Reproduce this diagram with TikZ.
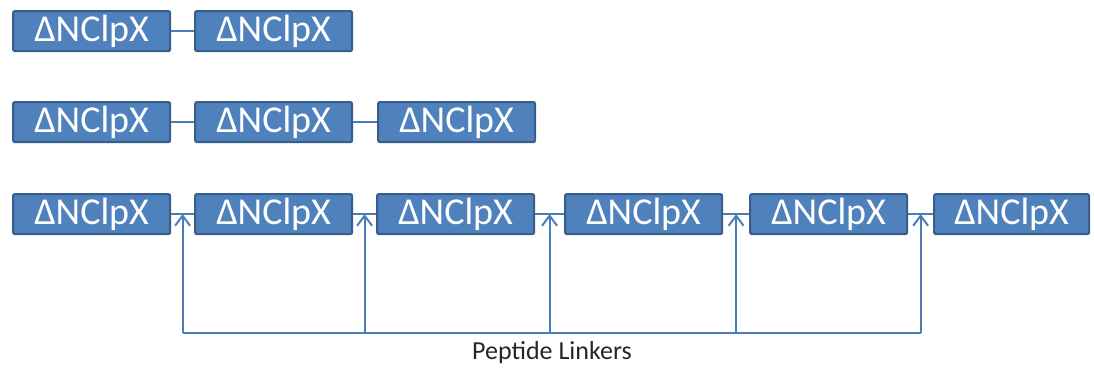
\documentclass[tikz,border=0pt]{standalone}
\usepackage{fontspec}
\setmainfont{Carlito}
\usetikzlibrary{arrows.meta}
\definecolor{boxfill}{HTML}{4F81BD}
\definecolor{boxline}{HTML}{385D8A}
\definecolor{linkcol}{HTML}{4A7EBB}
\begin{document}
\begin{tikzpicture}[x=1pt,y=-1pt,
  clp/.style={draw=boxline, line width=2.2pt, fill=boxfill, rounded corners=2pt,
    minimum width=157pt, minimum height=40pt, inner sep=0pt, anchor=north west,
    text=white, font=\fontsize{38}{42}\selectfont},
  link/.style={draw=linkcol, line width=2.6pt},
  linker/.style={draw=linkcol, line width=2pt},
  tip/.style={-{Straight Barb[length=10pt,width=15pt,line width=2pt]}}
]
\useasboundingbox (0,0) rectangle (1094,370);
% row 1
\node[clp] (a1) at (12,10) {ΔNClpX};
\node[clp] (a2) at (194,10) {ΔNClpX};
\draw[link] (a1.east) -- (a2.west);
% row 2
\node[clp] (b1) at (12,101) {ΔNClpX};
\node[clp] (b2) at (194,101) {ΔNClpX};
\node[clp] (b3) at (377,101) {ΔNClpX};
\draw[link] (b1.east) -- (b2.west);
\draw[link] (b2.east) -- (b3.west);
% row 3
\node[clp] (c1) at (12,193) {ΔNClpX};
\node[clp] (c2) at (194,193) {ΔNClpX};
\node[clp] (c3) at (376,193) {ΔNClpX};
\node[clp] (c4) at (564,193) {ΔNClpX};
\node[clp] (c5) at (749,193) {ΔNClpX};
\node[clp, minimum width=155pt] (c6) at (933,193) {ΔNClpX};
\foreach \i/\j in {1/2,2/3,3/4,4/5,5/6}{
  \draw[link] (c\i.east) -- (c\j.west) coordinate[pos=0.5] (m\i);
  \coordinate (f\i) at (m\i |- 0,333);
  \draw[linker,tip] (f\i) -- (m\i);
}
\draw[linker] (f1) -- (f5);
\node[font=\fontsize{26}{30}\selectfont, text=black!85] (lbl) at (552,353) {Peptide Linkers};
\end{tikzpicture}
\end{document}
